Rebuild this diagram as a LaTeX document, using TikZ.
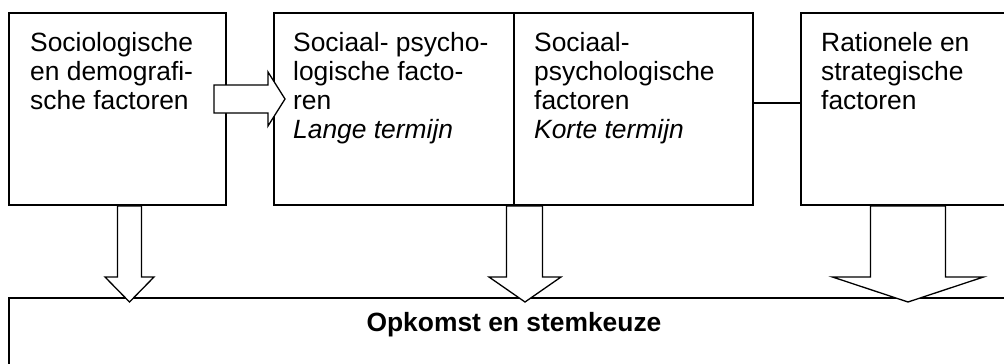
\documentclass[tikz,border=0pt]{standalone}
\usepackage{fontspec}
\setmainfont{Liberation Sans}
\usetikzlibrary{positioning,calc}

% block arrow pointing down: start, tip, half shaft, half head
\newcommand\neerpijl[4]{%
  \draw[pijl] let \p1 = #1, \p2 = #2 in
    (\x1-#3,\y1) -- (\x1-#3,\y2+25pt) -- (\x2-#4,\y2+25pt) -- (\x2,\y2)
    -- (\x2+#4,\y2+25pt) -- (\x1+#3,\y2+25pt) -- (\x1+#3,\y1) -- cycle;}
% block arrow pointing right: start, tip, half shaft, half head
\newcommand\rechtspijl[4]{%
  \draw[pijl] let \p1 = #1, \p2 = #2 in
    (\x1,\y1-#3) -- (\x2-17pt,\y1-#3) -- (\x2-17pt,\y2-#4) -- (\x2,\y2)
    -- (\x2-17pt,\y2+#4) -- (\x2-17pt,\y1+#3) -- (\x1,\y1+#3) -- cycle;}

\tikzset{
  blok/.style = {draw, line width = 2pt, anchor = north west, inner sep = 0pt},
  tekst/.style = {anchor = north west, inner sep = 0pt, align = left,
    font = \fontsize{26.4}{29}\selectfont},
  pijl/.style = {draw, fill = white, line width = 1.3pt, line join = miter}
}

\begin{document}
\begin{tikzpicture}[x = 1pt, y = -1pt]
\useasboundingbox (0,0) rectangle (1004,364);
\clip (0,0) rectangle (1004,364);
% Boxes
\node[blok, minimum width = 217pt, minimum height = 192pt] (soc) at (8,12) {};
\node[blok, minimum width = 240pt, minimum height = 192pt] (lang) at (273,12) {};
\node[blok, minimum width = 239pt, minimum height = 192pt] (kort) at (513,12) {};
\node[blok, minimum width = 240pt, minimum height = 192pt] (rat) at (800,12) {};
\node[blok, minimum width = 1010pt, minimum height = 120pt] (uit) at (8,297) {};
% Texts
\node[tekst, below right = 20.5pt and 22pt of soc.north west] (socT)
  {Sociologische\\en demografi-\\sche factoren};
\node[tekst, below right = 20.5pt and 20pt of lang.north west] (langT)
  {Sociaal- psycho-\\logische facto-\\ren\\\textit{Lange termijn}};
\node[tekst, below right = 20.5pt and 21pt of kort.north west] (kortT)
  {Sociaal-\\psychologische\\factoren\\\textit{Korte termijn}};
\node[tekst, below right = 20.5pt and 21pt of rat.north west] (ratT)
  {Rationele en\\strategische\\factoren};
\node[tekst, anchor = north, below = 15.5pt of uit.north] (uitT)
  {\textbf{Opkomst en stemkeuze}};
% Line between short term and rational
\draw[line width = 1.3pt] ([yshift = 6pt]kort.east) -- ([yshift = 6pt]rat.west);
% Arrows
\rechtspijl{([xshift = -13pt, yshift = 10pt]soc.east)}{([xshift = 12pt, yshift = 10pt]lang.west)}{14pt}{27pt}
\neerpijl{([xshift = 12pt]soc.south)}{([xshift = 12pt, yshift = -5pt]soc.south |- uit.north)}{12pt}{24.5pt}
\neerpijl{([xshift = 11.5pt]kort.south west)}{([xshift = 12pt, yshift = -5pt]kort.south west |- uit.north)}{18pt}{36pt}
\neerpijl{([xshift = 108pt]rat.south west)}{([xshift = 108pt, yshift = -5pt]rat.south west |- uit.north)}{37.5pt}{75.5pt}
\end{tikzpicture}
\end{document}
